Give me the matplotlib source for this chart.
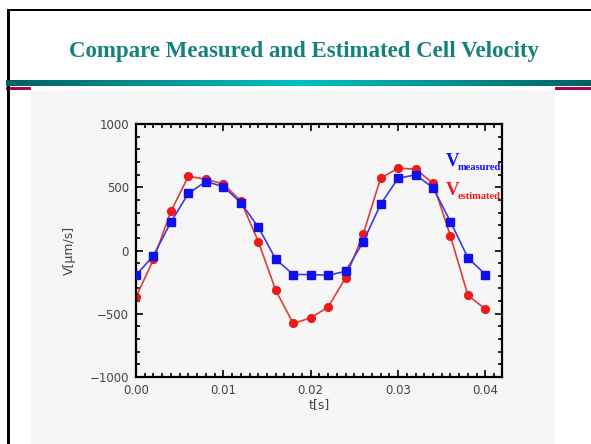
import numpy as np
import matplotlib
matplotlib.use("Agg")
import matplotlib.pyplot as plt
from matplotlib.ticker import MultipleLocator
from matplotlib.patches import Rectangle

# Time samples [s] and velocities [um/s]
t = [0.000, 0.002, 0.004, 0.006, 0.008, 0.010, 0.012, 0.014, 0.016, 0.018, 0.020,
     0.022, 0.024, 0.026, 0.028, 0.030, 0.032, 0.034, 0.036, 0.038, 0.040]
v_measured = [-196, -40, 225, 452, 545, 505, 378, 185, -69, -190, -190,
              -196, -164, 66, 365, 571, 598, 497, 228, -58, -190]
v_estimated = [-368, -71, 310, 587, 563, 526, 391, 71, -315, -577, -532,
               -447, -214, 127, 571, 651, 643, 532, 114, -355, -463]

title = "Compare Measured and Estimated Cell Velocity"
W, H = 591, 444

fig = plt.figure(figsize=(W / 100, H / 100), dpi=100)
fig.patch.set_facecolor("white")

# Slide decoration layer in pixel coordinates
deco = fig.add_axes([0, 0, 1, 1])
deco.set_xlim(0, W)
deco.set_ylim(H, 0)
deco.axis("off")

# grey panel behind the chart
deco.add_patch(Rectangle((31, 91), 555 - 31, H - 91, facecolor="#f6f6f6", edgecolor="none"))
# teal gradient band under the title
grad = np.abs(np.linspace(-1, 1, 600))
c_center = np.array([0.0, 0.76, 0.76])
c_edge = np.array([0.0, 0.38, 0.38])
band = (c_center[None, :] * (1 - grad[:, None]) + c_edge[None, :] * grad[:, None])[None, :, :]
deco.imshow(band, extent=(6, W, 86, 80), aspect="auto", interpolation="bilinear", zorder=2)
# magenta accents
deco.add_patch(Rectangle((6, 87), 31 - 6, 3.5, facecolor="#b0005a", edgecolor="none"))
deco.add_patch(Rectangle((555, 87), W - 555, 3.5, facecolor="#b0005a", edgecolor="none"))
# slide frame
deco.add_patch(Rectangle((7, 9), 2.5, H - 9, facecolor="black", edgecolor="none"))
deco.add_patch(Rectangle((7, 9), W - 7, 2.5, facecolor="black", edgecolor="none"))
deco.set_xlim(0, W)
deco.set_ylim(H, 0)

deco.text(304, 52, title, ha="center", va="center", fontsize=16.5, fontweight="bold",
          family="Liberation Serif", color="#16807a")

# Chart
ax = fig.add_axes([136 / W, 1 - 377 / H, (502 - 136) / W, (377 - 124) / H])
ax.set_facecolor("#f6f6f6")
ax.plot(t, v_measured, color="#3c3ce0", lw=1.2, marker="s", ms=5.3,
        mfc="#1010ee", mec="#1010ee", zorder=3)
ax.plot(t, v_estimated, color="#e03c3c", lw=1.2, marker="o", ms=5.6,
        mfc="#ee1a1a", mec="#ee1a1a", zorder=2)

ax.set_xlim(0, 0.0419)
ax.set_ylim(-1000, 1000)
ax.xaxis.set_major_locator(MultipleLocator(0.01))
ax.xaxis.set_minor_locator(MultipleLocator(0.001))
ax.yaxis.set_major_locator(MultipleLocator(500))
ax.yaxis.set_minor_locator(MultipleLocator(100))
ax.set_xticks([0, 0.01, 0.02, 0.03, 0.04])
ax.set_xticklabels(["0.00", "0.01", "0.02", "0.03", "0.04"])
ax.set_yticks([-1000, -500, 0, 500, 1000])
ax.set_yticklabels(["\u22121000", "\u2212500", "0", "500", "1000"])
ax.tick_params(which="both", direction="in", top=True, right=True, color="black",
               labelsize=8.5, labelcolor="#444444", width=1.2)
ax.tick_params(which="major", length=5, pad=5)
ax.tick_params(which="minor", length=3)
for s in ax.spines.values():
    s.set_linewidth(1.6)
    s.set_color("black")

ax.set_xlabel("t[s]", fontsize=9, color="#444444", labelpad=1)
ax.set_ylabel("V[\u03bcm/s]", fontsize=9, color="#444444", labelpad=10)

# in-plot series labels (figure-level so they sit above the chart)
def series_label(x, y, sub, color):
    fig.text(x / W, 1 - y / H, "V", fontsize=13.5, fontweight="bold",
             family="Liberation Serif", color=color, ha="left", va="baseline", zorder=5)
    fig.text((x + 12) / W, 1 - (y + 4) / H, sub, fontsize=7.6, fontweight="bold",
             family="Liberation Serif", color=color, ha="left", va="baseline", zorder=5)

series_label(446, 166, "measured", "#1010ee")
series_label(446, 195, "estimated", "#ee1a1a")

fig.savefig("out.png", dpi=100, facecolor=fig.get_facecolor())
